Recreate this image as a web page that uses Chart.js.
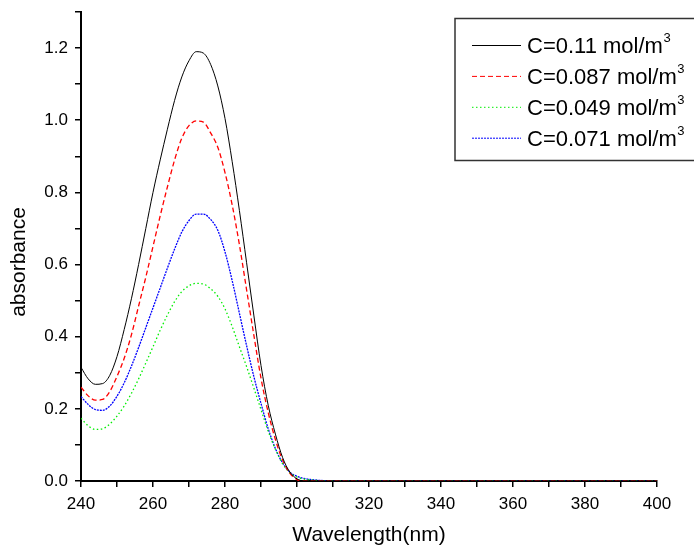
<!DOCTYPE html>
<html>
<head>
<meta charset="utf-8">
<script src="https://cdn.jsdelivr.net/npm/chart.js@4.4.1/dist/chart.umd.min.js"></script>
<style>
  html, body { margin: 0; padding: 0; background: #fff; }
  #wrap { width: 694px; height: 548px; position: relative; }
</style>
</head>
<body>
<div id="wrap"><canvas id="absChart"></canvas></div>
<script>
// ==================== 数据 ====================
const wavelengths = [
    240, 242, 244, 246, 248, 250, 252, 254, 256, 258,
    260, 262, 264, 266, 268, 270, 272, 274, 276, 278,
    280, 282, 284, 286, 288, 290, 292, 294, 296, 298,
    300, 302, 304, 306, 308, 310, 320, 330, 340, 350,
    360, 370, 380, 390, 400
];

// C=0.11 mol/m3
const absC011 = [
    0.315, 0.283, 0.268, 0.27, 0.293, 0.345, 0.42, 0.505, 0.60, 0.70,
    0.80, 0.89, 0.975, 1.055, 1.12, 1.165, 1.19, 1.186, 1.155, 1.095,
    1.005, 0.885, 0.75, 0.605, 0.46, 0.32, 0.21, 0.13, 0.065, 0.025,
    0.006, 0, 0, 0, 0, 0, 0, 0, 0, 0,
    0, 0, 0, 0, 0
];

// C=0.087 mol/m3
const absC0087 = [
    0.26, 0.236, 0.224, 0.226, 0.248, 0.29, 0.34, 0.405, 0.485, 0.565,
    0.65, 0.735, 0.815, 0.89, 0.95, 0.985, 0.998, 0.995, 0.965, 0.925,
    0.855, 0.765, 0.655, 0.53, 0.405, 0.285, 0.19, 0.115, 0.058, 0.022,
    0.004, 0, 0, 0, 0, 0, 0, 0, 0, 0,
    0, 0, 0, 0, 0
];

// C=0.049 mol/m3
const absC0049 = [
    0.174, 0.153, 0.143, 0.145, 0.158, 0.18, 0.208, 0.243, 0.283, 0.327,
    0.372, 0.418, 0.46, 0.497, 0.525, 0.541, 0.548, 0.546, 0.533, 0.512,
    0.477, 0.428, 0.372, 0.317, 0.258, 0.198, 0.138, 0.088, 0.048, 0.023,
    0.011, 0.005, 0.003, 0.001, 0, 0, 0, 0, 0, 0,
    0, 0, 0, 0, 0
];

// C=0.071 mol/m3
const absC0071 = [
    0.234, 0.212, 0.198, 0.196, 0.208, 0.235, 0.272, 0.318, 0.37, 0.425,
    0.48, 0.535, 0.59, 0.643, 0.69, 0.722, 0.74, 0.74, 0.725, 0.695,
    0.635, 0.555, 0.465, 0.375, 0.29, 0.215, 0.145, 0.09, 0.05, 0.025,
    0.013, 0.007, 0.004, 0.002, 0.001, 0, 0, 0, 0, 0,
    0, 0, 0, 0, 0
];

const seriesLabels = ['C=0.11 mol/m', 'C=0.087 mol/m', 'C=0.049 mol/m', 'C=0.071 mol/m'];
const seriesValues = [absC011, absC0087, absC0049, absC0071];
const seriesColors = ['#000000', '#ff0000', '#00ee00', '#0000ff'];
const seriesDashes = [[], [5, 3], [1.5, 2.5], [2, 1]];

const xTitle = 'Wavelength(nm)';
const yTitle = 'absorbance';

const FONT = "'Liberation Sans', Arial, sans-serif";

// ==================== 自定义图例和 y 轴标题 ====================
const boxLegendPlugin = {
    id: 'boxLegend',
    afterDraw(chart) {
        const ctx = chart.ctx;
        ctx.save();

        // y 轴标题
        ctx.save();
        ctx.translate(19, 262);
        ctx.rotate(-Math.PI / 2);
        ctx.font = '21px ' + FONT;
        ctx.fillStyle = '#000';
        ctx.textAlign = 'center';
        ctx.textBaseline = 'middle';
        ctx.fillText(yTitle, 0, 0);
        ctx.restore();

        // 图例框
        ctx.strokeStyle = '#333';
        ctx.lineWidth = 1.5;
        ctx.strokeRect(455, 18.5, 260, 142);

        chart.data.datasets.forEach((ds, i) => {
            const y = 45 + i * 30.9;
            ctx.beginPath();
            ctx.setLineDash(seriesDashes[i]);
            ctx.strokeStyle = seriesColors[i];
            ctx.lineWidth = 1;
            ctx.moveTo(472, y + 0.5);
            ctx.lineTo(521, y + 0.5);
            ctx.stroke();
            ctx.setLineDash([]);

            ctx.fillStyle = '#000';
            ctx.textAlign = 'left';
            ctx.textBaseline = 'alphabetic';
            ctx.font = '22px ' + FONT;
            ctx.fillText(ds.label, 527, y + 8);
            const w = ctx.measureText(ds.label).width;
            ctx.font = '13px ' + FONT;
            ctx.fillText('3', 527 + w + 0.5, y - 3);
        });
        ctx.restore();
    }
};

const datasets = seriesValues.map((vals, i) => ({
    label: seriesLabels[i],
    data: wavelengths.map((w, j) => ({ x: w, y: vals[j] })),
    borderColor: seriesColors[i],
    borderWidth: i === 0 ? 1 : 1.3,
    borderDash: seriesDashes[i],
    pointRadius: 0,
    fill: false,
    cubicInterpolationMode: 'monotone'
}));

new Chart(document.getElementById('absChart'), {
    type: 'line',
    data: { datasets: datasets },
    options: {
        responsive: true,
        maintainAspectRatio: false,
        animation: false,
        layout: {
            padding: { left: 0, right: 37, top: 12, bottom: 0 }
        },
        plugins: {
            legend: { display: false },
            tooltip: { enabled: false }
        },
        scales: {
            x: {
                type: 'linear',
                min: 240,
                max: 400,
                afterFit: (scale) => { scale.height = 67; },
                border: { color: '#000', width: 2 },
                grid: {
                    drawOnChartArea: false,
                    drawTicks: true,
                    tickLength: 6,
                    color: '#000',
                    lineWidth: 1.5
                },
                ticks: {
                    stepSize: 10,
                    autoSkip: false,
                    maxRotation: 0,
                    padding: 7,
                    color: '#000',
                    font: { family: FONT, size: 17 },
                    callback: (value) => (value % 20 === 0 ? value : '')
                },
                title: {
                    display: true,
                    text: xTitle,
                    color: '#000',
                    font: { family: FONT, size: 21 },
                    padding: { top: 0, bottom: 0 }
                }
            },
            y: {
                min: 0,
                max: 1.3,
                afterFit: (scale) => {
                    scale.width = 81;
                    scale.paddingTop = 0;
                    scale.paddingBottom = 0;
                },
                border: { color: '#000', width: 2 },
                grid: {
                    drawOnChartArea: false,
                    drawTicks: true,
                    tickLength: 6,
                    color: '#000',
                    lineWidth: 1.5
                },
                ticks: {
                    stepSize: 0.1,
                    autoSkip: false,
                    padding: 7,
                    color: '#000',
                    font: { family: FONT, size: 17 },
                    callback: (value) => (Math.round(value * 10) % 2 === 0 ? value.toFixed(1) : '')
                }
            }
        }
    },
    plugins: [boxLegendPlugin]
});
</script>
</body>
</html>
